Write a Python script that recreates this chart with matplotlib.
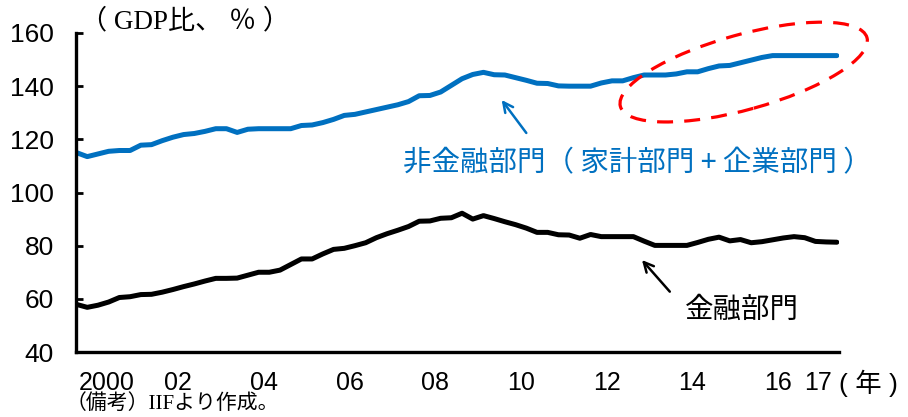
import numpy as np
import matplotlib
matplotlib.use("Agg")
import matplotlib.pyplot as plt
from matplotlib.patches import Ellipse
from matplotlib.transforms import IdentityTransform

# quarterly series, 2000Q1 - 2017Q4 (GDP ratio, %)
nonfinancial = [115, 113.5, 114.5, 115.5, 115.8, 115.8, 117.8, 118, 119.5, 120.8,
                121.8, 122.2, 123, 124, 124, 122.6, 123.8, 124, 124, 124,
                124, 125.2, 125.4, 126.3, 127.5, 129, 129.4, 130.3, 131.2, 132.1,
                133, 134.2, 136.4, 136.5, 137.8, 140.3, 142.8, 144.4, 145.2, 144.3,
                144.2, 143.2, 142.2, 141.1, 141, 140.1, 140, 140, 140, 141.2,
                142, 142, 143.2, 144.2, 144.2, 144.2, 144.6, 145.4, 145.4, 146.6,
                147.6, 147.8, 148.8, 149.8, 150.8, 151.5, 151.5, 151.5, 151.5, 151.5,
                151.5, 151.5]
financial = [57.9, 56.8, 57.6, 58.8, 60.5, 60.8, 61.6, 61.7, 62.5, 63.5,
             64.6, 65.6, 66.7, 67.7, 67.7, 67.8, 68.9, 70, 70, 70.8,
             72.9, 75, 75, 76.9, 78.6, 79, 80, 81.1, 83, 84.5,
             85.8, 87.2, 89.2, 89.3, 90.3, 90.5, 92.2, 90, 91.3, 90.2,
             89, 87.9, 86.6, 85, 85, 84.1, 84, 82.8, 84.2, 83.4,
             83.4, 83.4, 83.4, 81.7, 80.1, 80.1, 80.1, 80.1, 81.2, 82.4,
             83.2, 81.8, 82.3, 81.1, 81.5, 82.2, 82.9, 83.4, 83, 81.6,
             81.4, 81.3]
tick_years = [2000, 2002, 2004, 2006, 2008, 2010, 2012, 2014, 2016, 2017]
tick_labels = ["2000", "02", "04", "06", "08", "10", "12", "14", "16", "17"]
y_ticks = [40, 60, 80, 100, 120, 140, 160]

BLUE = "#0070C0"
CJK = ["Noto Sans CJK JP", "DejaVu Sans"]
SANS_CJK = ["Liberation Sans", "Noto Sans CJK JP"]
SERIF_CJK = ["Liberation Serif", "Noto Sans CJK JP"]

x = np.arange(len(nonfinancial))

fig = plt.figure(figsize=(9.08, 4.17), dpi=100)
ax = fig.add_axes([76 / 908, 65 / 417, 763 / 908, 319 / 417])

ax.plot(x, nonfinancial, color=BLUE, lw=3.6, solid_capstyle="round", solid_joinstyle="round")
ax.plot(x, financial, color="black", lw=3.6, solid_capstyle="round", solid_joinstyle="round")

ax.set_xlim(-0.05, 71.2)
ax.set_ylim(40, 160)
ax.set_yticks(y_ticks)
ax.set_yticklabels([str(v) for v in y_ticks], fontsize=19, family="Liberation Sans")
ax.tick_params(axis="y", direction="in", length=5, width=2, pad=16)

# year labels sit in the middle of each year's four quarters
pos = [4 * (yr - 2000) + 1.5 for yr in tick_years]
pos[0] += 1.3
pos[-1] -= 0.3
ax.set_xticks(pos)
ax.set_xticklabels(tick_labels, fontsize=18, family="Liberation Sans")
ax.tick_params(axis="x", length=0, pad=14)

for side in ("top", "right"):
    ax.spines[side].set_visible(False)
for side in ("left", "bottom"):
    ax.spines[side].set_linewidth(2.4)

fig.text(839 / 908, 1 - 383 / 417, "( 年 )", family=SANS_CJK, fontsize=19, ha="left", va="center")
fig.text(80 / 908, 1 - 22 / 417, "（ GDP比、 ％ ）", family=SERIF_CJK, fontsize=19.5, ha="left", va="center")
fig.text(66 / 908, 1 - 404 / 417, "（備考）IIFより作成。", family=SERIF_CJK, fontsize=15, ha="left", va="center")

# labels with arrows
ax.annotate("", xy=(39.7, 134.8), xytext=(42.0, 122.4),
            arrowprops=dict(arrowstyle="->,head_length=0.7,head_width=0.35", color=BLUE, lw=1.8,
                            shrinkA=0, shrinkB=0))
ax.text(30.5, 111.0, "非金融部門（ 家計部門 + 企業部門 ）", color=BLUE, family=CJK, fontsize=20.5,
        ha="left", va="center")
ax.annotate("", xy=(52.8, 74.6), xytext=(55.4, 62.7),
            arrowprops=dict(arrowstyle="->,head_length=0.7,head_width=0.35", color="black", lw=1.8,
                            shrinkA=0, shrinkB=0))
ax.text(56.8, 55.8, "金融部門", color="black", family=CJK, fontsize=20.5, ha="left", va="center")

# dashed ring around the recent plateau, drawn in pixel space
fig.canvas.draw()
cx, cy = ax.transData.transform((62.3, 145.3))
ring = Ellipse((cx, cy), width=256, height=75, angle=15.6, transform=IdentityTransform(),
               fill=False, edgecolor="#FF0000", lw=2.3, linestyle=(0, (5, 3.5)))
fig.add_artist(ring)

fig.savefig("out.png", dpi=100)
